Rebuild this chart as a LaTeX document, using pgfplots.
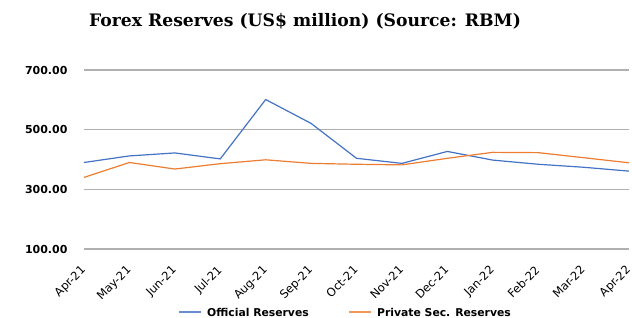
\documentclass[border=0pt]{standalone}
\usepackage{pgfplots}
\pgfplotsset{compat=1.18}
\usepackage{fontspec}
\setmainfont{DejaVu Sans}
\newfontfamily\titlefont{DejaVu Serif}
\definecolor{cblue}{HTML}{4472C4}
\definecolor{corange}{HTML}{ED7D31}
\definecolor{cgrid}{HTML}{B0B0B0}
\begin{document}
\begin{tikzpicture}[x=1pt,y=1pt]
\useasboundingbox (0,0) rectangle (632,318);
\node[font=\titlefont\bfseries\fontsize{17.2}{20}\selectfont] at (305,297) {Forex Reserves (US\$ million) (Source: RBM)};
\begin{axis}[
  at={(84pt,69pt)}, anchor=south west,
  scale only axis, width=545pt, height=179pt,
  xmin=0, xmax=12, ymin=100, ymax=700,
  ytick={100,300,500,700},
  yticklabel style={font=\bfseries\fontsize{11}{13}\selectfont, xshift=-13pt, /pgf/number format/.cd, fixed, fixed zerofill, precision=2},
  /pgf/number format/assume math mode=true,
  xtick={0,...,12},
  xticklabels={Apr-21,May-21,Jun-21,Jul-21,Aug-21,Sep-21,Oct-21,Nov-21,Dec-21,Jan-22,Feb-22,Mar-22,Apr-22},
  xticklabel style={font=\fontsize{11.5}{13}\selectfont, xshift=-4pt, yshift=-14pt, rotate=45, anchor=north east, inner sep=1pt},
  ymajorgrids, grid style={cgrid, line width=1.2pt},
  axis line style={draw=none},
  major tick style={draw=none},
  clip=false,
]
\addplot[cblue, line width=1.2pt] coordinates {
(0,390) (1,412) (2,422) (3,402) (4,601) (5,521) (6,404) (7,387) (8,427) (9,398) (10,384) (11,374) (12,361)};
\addplot[corange, line width=1.2pt] coordinates {
(0,340) (1,390) (2,368) (3,386) (4,399) (5,387) (6,384) (7,382) (8,404) (9,424) (10,423) (11,406) (12,389)};
\end{axis}
\draw[cblue!80, line width=1.5pt] (179,6) -- (201,6);
\node[anchor=west, font=\bfseries\fontsize{10.8}{12}\selectfont, inner sep=0pt] at (207,6) {Official Reserves};
\draw[corange!80, line width=1.5pt] (349,6) -- (371,6);
\node[anchor=west, font=\bfseries\fontsize{10.8}{12}\selectfont, inner sep=0pt] at (377,6) {Private Sec. Reserves};
\end{tikzpicture}
\end{document}
